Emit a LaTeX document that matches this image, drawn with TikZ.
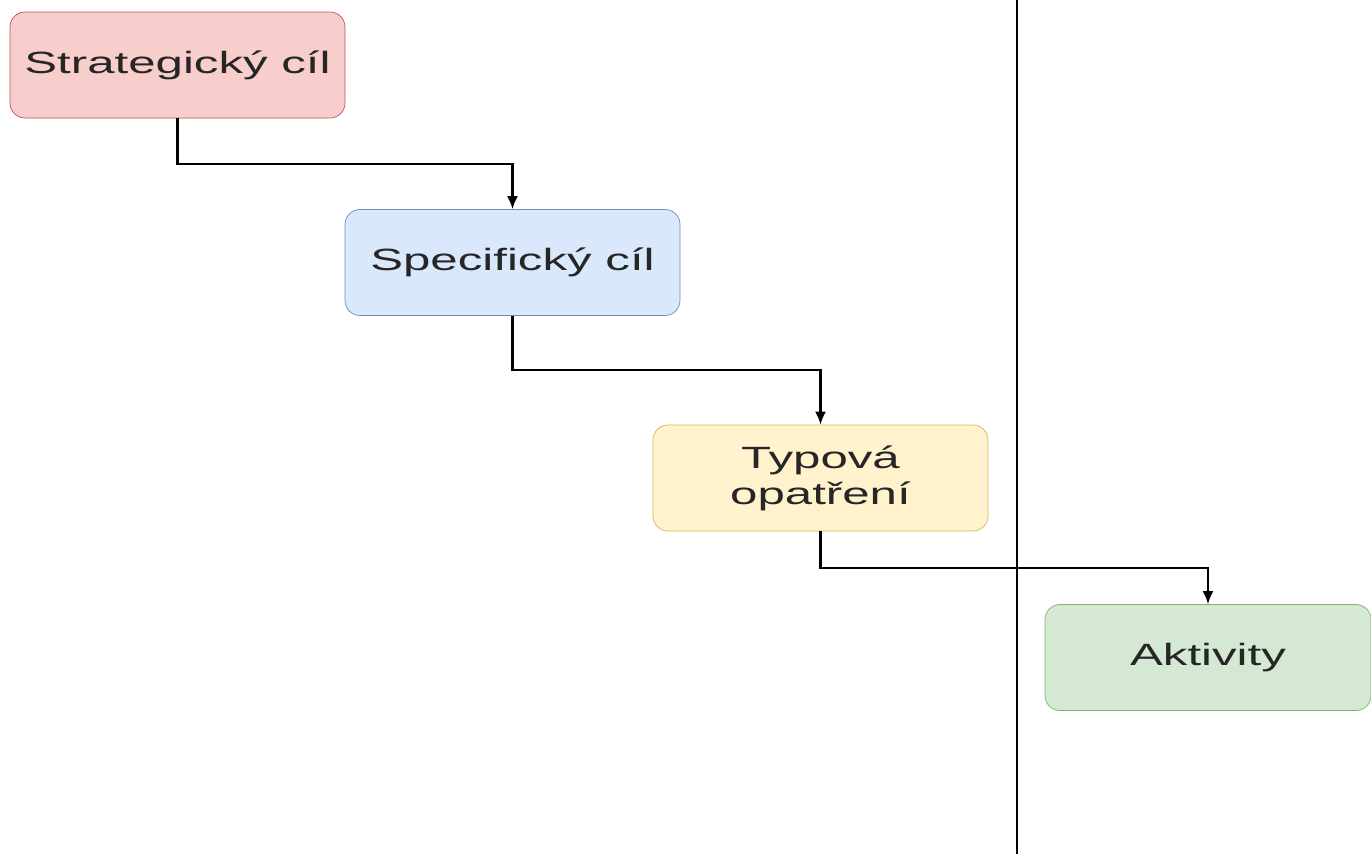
\documentclass[tikz,border=0pt]{standalone}
\usepackage{fontspec}
\newfontfamily\boxfont{Liberation Sans}[FakeStretch=1.6]
\usepackage{tikz}
\usetikzlibrary{arrows.meta,calc,positioning}

\definecolor{redfill}{HTML}{F8CECC}
\definecolor{reddraw}{HTML}{B85450}
\definecolor{bluefill}{HTML}{DAE8FC}
\definecolor{bluedraw}{HTML}{6C8EBF}
\definecolor{yellowfill}{HTML}{FFF2CC}
\definecolor{yellowdraw}{HTML}{D6B656}
\definecolor{greenfill}{HTML}{D5E8D4}
\definecolor{greendraw}{HTML}{82B366}

\begin{document}
\begin{tikzpicture}
[level/.style={rectangle,rounded corners=3mm,thin,
inner sep=0pt,minimum width=6.7cm,minimum height=2.12cm,
align=center,text=black!85,font=\boxfont\fontsize{17.5}{20.5}\selectfont},
link/.style={-{Latex[length=2.6mm,width=2.2mm]},line width=1.3pt}]
\useasboundingbox (0,0) rectangle (27.42,-17.08);
\node at ( 3.55, -1.30) [level,draw=reddraw,fill=redfill] (strat){Strategický cíl};
\node at (10.25, -5.25) [level,draw=bluedraw,fill=bluefill] (spec){Specifický cíl};
\node at (16.41, -9.56) [level,draw=yellowdraw,fill=yellowfill] (typ){Typová\\opatření};
\node at (24.16,-13.15) [level,draw=greendraw,fill=greenfill,minimum width=6.52cm] (akt){Aktivity};
\coordinate (divtop) at (20.34,0);
\coordinate (divbot) at (20.34,-17.08);
\draw [line width=1.3pt] (divtop) -- (divbot);
\draw [link] (strat.south) |- ($(strat.south)!.5!(spec.north)$) -| (spec.north);
\draw [link] (spec.south) |- ($(spec.south)!.5!(typ.north)$) -| (typ.north);
\draw [link] (typ.south) |- ($(typ.south)!.5!(akt.north)$) -| (akt.north);
\end{tikzpicture}
\end{document}
